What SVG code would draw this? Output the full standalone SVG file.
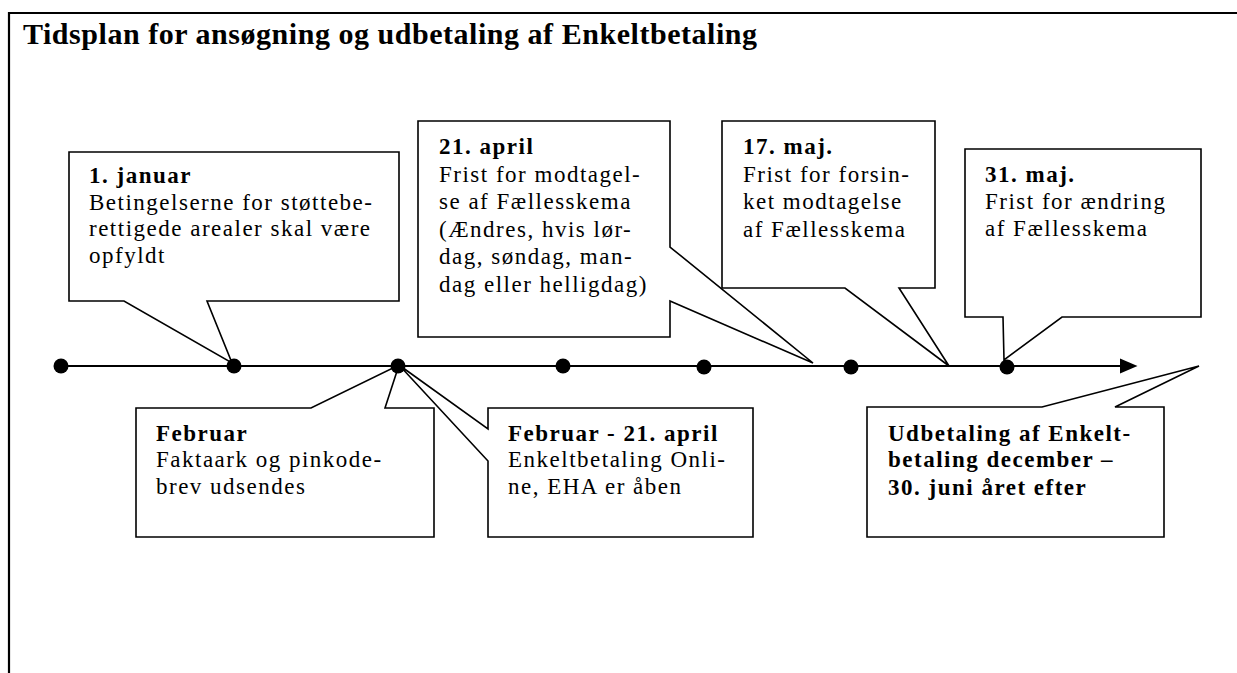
<svg xmlns="http://www.w3.org/2000/svg" width="1237" height="673" viewBox="0 0 1237 673">
<style>
.frame{fill:none;stroke:#000;stroke-width:2.2}
.box{fill:#fff;stroke:#000;stroke-width:1.6;stroke-linejoin:miter}
.t{font-family:"Liberation Serif","Times New Roman",serif;font-size:23px;letter-spacing:1.5px;fill:#000}
.b{font-weight:bold}
.title{font-family:"Liberation Serif","Times New Roman",serif;font-size:30px;font-weight:bold;fill:#000}
.axis{stroke:#000;stroke-width:2.2;fill:none}
.dot{fill:#000}
</style>
<rect width="1237" height="673" fill="#fff"/>
<path class="frame" d="M9,673 V13 H1237"/>
<text class="title" x="23" y="44" textLength="734" lengthAdjust="spacing">Tidsplan for ansøgning og udbetaling af Enkeltbetaling</text>

<g id="node-jan">
<path class="box" d="M69,152 H399 V301 H207 L232,363 L124,301 H69 Z"/>
<text class="t b" x="89" y="183">1. januar</text>
<text class="t" x="89" y="209.7">Betingelserne for støttebe-</text>
<text class="t" x="89" y="236.4">rettigede arealer skal være</text>
<text class="t" x="89" y="263">opfyldt</text>
</g>

<g id="node-apr21">
<path class="box" d="M418,121 H670 V247 L813,363 L670,301 V337 H418 Z"/>
<text class="t b" x="439" y="154">21. april</text>
<text class="t" x="439" y="181.5">Frist for modtagel-</text>
<text class="t" x="439" y="209">se af Fællesskema</text>
<text class="t" x="439" y="236.5">(Ændres, hvis lør-</text>
<text class="t" x="439" y="264">dag, søndag, man-</text>
<text class="t" x="439" y="291.5">dag eller helligdag)</text>
</g>

<g id="node-maj17">
<path class="box" d="M722,121 H935 V288 H899 L949,366 L845,288 H722 Z"/>
<text class="t b" x="743" y="154">17. maj.</text>
<text class="t" x="743" y="181.5">Frist for forsin-</text>
<text class="t" x="743" y="209">ket modtagelse</text>
<text class="t" x="743" y="236.5">af Fællesskema</text>
</g>

<g id="node-maj31">
<path class="box" d="M965,149 H1201 V317 H1062 L1004,360 L1003,317 H965 Z"/>
<text class="t b" x="985" y="182">31. maj.</text>
<text class="t" x="985" y="209">Frist for ændring</text>
<text class="t" x="985" y="236">af Fællesskema</text>
</g>

<g id="node-feb">
<path class="box" d="M136,408 H311 L399,365 L385,408 H434 V537 H136 Z"/>
<text class="t b" x="156" y="440.5">Februar</text>
<text class="t" x="156" y="467">Faktaark og pinkode-</text>
<text class="t" x="156" y="494">brev udsendes</text>
</g>

<g id="node-feb-apr">
<path class="box" d="M488,408 H753 V537 H488 V461 L399,365 L488,429 Z"/>
<text class="t b" x="508" y="440.5">Februar - 21. april</text>
<text class="t" x="508" y="467">Enkeltbetaling Onli-</text>
<text class="t" x="508" y="494">ne, EHA er åben</text>
</g>

<g id="node-udbetaling">
<path class="box" d="M867,407 H1042 L1199,366 L1115,407 H1164 V537 H867 Z"/>
<text class="t b" x="888" y="440.5">Udbetaling af Enkelt-</text>
<text class="t b" x="888" y="467">betaling december –</text>
<text class="t b" x="888" y="494.5">30. juni året efter</text>
</g>

<g id="connectors">
<line class="axis" x1="61" y1="366" x2="1124" y2="366"/>
<polygon points="1120,358.5 1137.5,366 1120,373.5" fill="#000"/>
<circle class="dot" cx="61" cy="366" r="7.5"/>
<circle class="dot" cx="234" cy="366" r="7.5"/>
<circle class="dot" cx="398" cy="366" r="7.5"/>
<circle class="dot" cx="563" cy="366" r="7.5"/>
<circle class="dot" cx="704" cy="367" r="7.5"/>
<circle class="dot" cx="851" cy="367" r="7.5"/>
<circle class="dot" cx="1007" cy="367" r="7.5"/>
</g>
</svg>
